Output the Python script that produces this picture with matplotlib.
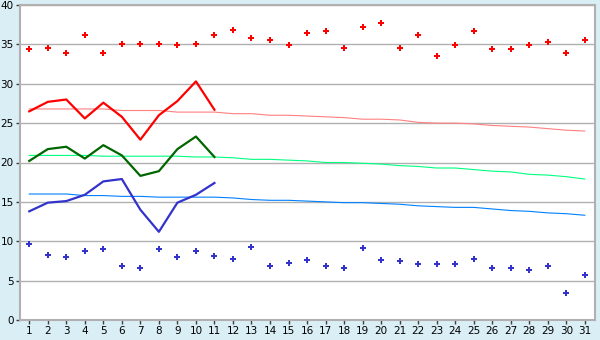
import matplotlib
matplotlib.use('Agg')
import matplotlib.pyplot as plt

days = list(range(1, 32))

# daily max (scatter) and min (scatter)
max_pts = [34.4, 34.5, 33.9, 36.2, 33.9, 35.0, 35.1, 35.1, 34.9, 35.0, 36.2, 36.8, 35.8, 35.6, 34.9,
           36.5, 36.7, 34.5, 37.2, 37.7, 34.5, 36.2, 33.5, 34.9, 36.7, 34.4, 34.4, 34.9, 35.3, 33.9, 35.6]
min_pts = [9.6, 8.2, 8.0, 8.8, 9.0, 6.8, 6.6, 9.0, 8.0, 8.8, 8.1, 7.7, 9.3, 6.9, 7.3,
           7.6, 6.8, 6.6, 9.1, 7.6, 7.5, 7.1, 7.1, 7.1, 7.8, 6.6, 6.6, 6.4, 6.9, 3.4, 5.7]

# current month lines (days 1-11)
cur_days = list(range(1, 12))
cur_max = [26.5, 27.7, 28.0, 25.6, 27.6, 25.8, 22.9, 26.0, 27.8, 30.3, 26.7]
cur_avg = [20.2, 21.7, 22.0, 20.5, 22.2, 20.9, 18.3, 18.9, 21.7, 23.3, 20.7]
cur_min = [13.8, 14.9, 15.1, 15.9, 17.6, 17.9, 14.0, 11.2, 14.9, 15.9, 17.4]

# long-term normals
norm_max = [26.8, 26.8, 26.8, 26.8, 26.8, 26.6, 26.6, 26.6, 26.4, 26.4, 26.4, 26.2, 26.2, 26.0, 26.0,
            25.9, 25.8, 25.7, 25.5, 25.5, 25.4, 25.1, 25.0, 25.0, 24.9, 24.7, 24.6, 24.5, 24.3, 24.1, 24.0]
norm_avg = [20.9, 20.9, 20.9, 20.9, 20.8, 20.8, 20.8, 20.8, 20.8, 20.7, 20.7, 20.6, 20.4, 20.4, 20.3,
            20.2, 20.0, 20.0, 19.9, 19.8, 19.6, 19.5, 19.3, 19.3, 19.1, 18.9, 18.8, 18.5, 18.4, 18.2, 17.9]
norm_min = [16.0, 16.0, 16.0, 15.8, 15.8, 15.7, 15.7, 15.6, 15.6, 15.6, 15.6, 15.5, 15.3, 15.2, 15.2,
            15.1, 15.0, 14.9, 14.9, 14.8, 14.7, 14.5, 14.4, 14.3, 14.3, 14.1, 13.9, 13.8, 13.6, 13.5, 13.3]

bg = '#daeef5'
fig = plt.figure(figsize=(6, 3.4), dpi=100, facecolor=bg)
ax = fig.add_axes([20 / 600, 20 / 340, 575 / 600, 315 / 340])
ax.set_facecolor('white')

ax.set_xlim(0.5, 31.55)
ax.set_ylim(0, 40)
ax.set_yticks(range(0, 41, 5))
ax.set_xticks(days)
ax.grid(axis='y', color='#b0b0b0', linewidth=1)
ax.set_axisbelow(True)

# normals
ax.plot(days, norm_max, color='#ff8080', linewidth=0.8)
ax.plot(days, norm_avg, color='#00ff80', linewidth=0.8)
ax.plot(days, norm_min, color='#0080ff', linewidth=0.8)

# current month
ax.plot(cur_days, cur_max, color='#ff0000', linewidth=1.6)
ax.plot(cur_days, cur_avg, color='#006600', linewidth=1.6)
ax.plot(cur_days, cur_min, color='#3333cc', linewidth=1.6)

# extremes
ax.plot(days, max_pts, linestyle='none', marker='P', markersize=4.5, color='#ff0000', markeredgewidth=0)
ax.plot(days, min_pts, linestyle='none', marker='P', markersize=4.5, color='#3333cc', markeredgewidth=0)

for s in ax.spines.values():
    s.set_color('#b0b0b0')
    s.set_linewidth(1.5)
ax.tick_params(axis='both', direction='out', length=3, width=1, color='#404040',
               labelsize=7.5, pad=1.5, labelcolor='black')

fig.savefig('out.png', dpi=100, facecolor=bg)
